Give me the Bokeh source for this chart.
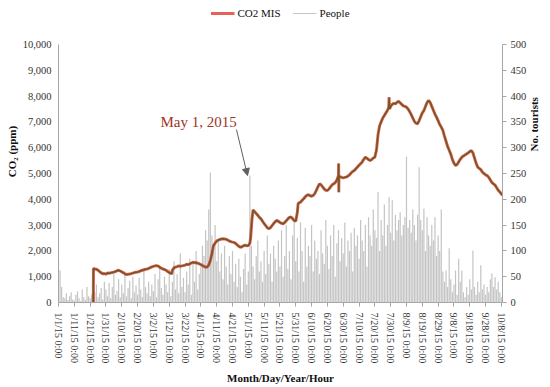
import math
from bokeh.plotting import figure
from bokeh.models import (Range1d, LinearAxis, FixedTicker, Legend, LegendItem,
                          Label, Arrow, NormalHead, NumeralTickFormatter)
from bokeh.embed import file_html
from bokeh.resources import INLINE

# ---------------- data ----------------
tick_days = [0, 10, 20, 30, 40, 50, 60, 70, 80, 90, 100, 110, 120, 130, 140,
             150, 160, 170, 180, 190, 200, 210, 220, 230, 240, 250, 260, 270, 280]
tick_labels = ["1/1/15 0:00", "1/11/15 0:00", "1/21/15 0:00", "1/31/15 0:00",
               "2/10/15 0:00", "2/20/15 0:00", "3/2/15 0:00", "3/12/15 0:00",
               "3/22/15 0:00", "4/1/15 0:00", "4/11/15 0:00", "4/21/15 0:00",
               "5/1/15 0:00", "5/11/15 0:00", "5/21/15 0:00", "5/31/15 0:00",
               "6/10/15 0:00", "6/20/15 0:00", "6/30/15 0:00", "7/10/15 0:00",
               "7/20/15 0:00", "7/30/15 0:00", "8/9/15 0:00", "8/19/15 0:00",
               "8/29/15 0:00", "9/8/15 0:00", "9/18/15 0:00", "9/28/15 0:00",
               "10/8/15 0:00"]

people = [
    85, 62, 30, 10, 8, 18, 5, 12, 20, 6,
    4, 15, 22, 8, 3, 25, 10, 5, 30, 12,
    8, 15, 5, 20, 35, 10, 18, 28, 6, 40,
    25, 12, 38, 8, 30, 55, 15, 22, 45, 10,
    35, 18, 60, 12, 28, 42, 8, 50, 20, 33,
    15, 48, 25, 10, 62, 30, 18, 40, 12, 35,
    22, 55, 10, 45, 70, 28, 15, 50, 35, 20,
    65, 12, 40, 80, 25, 55, 18, 95, 30, 48,
    20, 60, 35, 85, 15, 75, 40, 100, 25, 55,
    70, 110, 90, 140, 120, 180, 252, 130, 100, 150,
    80, 120, 60, 95, 45, 110, 70, 35, 90, 55,
    100, 40, 75, 30, 85, 50, 20, 65, 95, 35,
    60, 246, 110, 70, 45, 90, 120, 60, 80, 40,
    100, 55, 130, 75, 95, 40, 110, 85, 60, 120,
    70, 140, 50, 90, 150, 65, 100, 45, 130, 160,
    80, 125, 60, 155, 100, 40, 145, 70, 110, 90,
    150, 60, 120, 85, 100, 55, 140, 95, 75, 160,
    110, 65, 130, 90, 150, 50, 115, 140, 80, 125,
    95, 155, 70, 120, 100, 135, 60, 145, 110, 130,
    85, 160, 120, 100, 150, 70, 165, 130, 110, 180,
    140, 125, 214, 100, 160, 130, 190, 110, 150, 204,
    135, 198, 120, 170, 140, 160, 175, 130, 150, 165,
    283, 145, 160, 135, 180, 150, 120, 170, 262, 160,
    140, 182, 100, 165, 130, 110, 150, 120, 165, 90,
    130, 100, 180, 60, 40, 62, 30, 105, 45, 20,
    35, 62, 15, 85, 40, 62, 20, 10, 30, 15,
    45, 25, 101, 30, 15, 40, 20, 72, 25, 35,
    15, 30, 20, 45, 56, 30, 49, 25, 40, 20,
    10,
]
people_days = list(range(len(people)))
people_base = [0] * len(people)

co2_days = [
    22.0, 22.1, 23, 24, 25, 26, 27, 28, 29, 30, 31, 32, 33, 34, 35, 36, 37, 38, 39,
    40, 41, 42, 43, 44, 45, 46, 47, 48, 49, 50, 51, 52, 53, 54, 55, 56, 57, 58, 59,
    60, 61, 62, 63, 64, 65, 66, 67, 68, 69, 70, 71, 71.5, 72, 73, 74, 75, 76, 77,
    78, 79, 80, 81, 82, 83, 84, 85, 86, 87, 88, 89, 90, 91, 92, 93, 94, 95, 96, 97,
    98, 99, 100, 101, 102, 103, 104, 105, 106, 107, 108, 109, 110, 111, 112, 113,
    114, 115, 116, 117, 118, 119, 120, 121, 121.5, 122.3, 123, 124, 125, 126, 127,
    128, 129, 130, 131, 132, 133, 134, 135, 136, 137, 138, 139, 140, 141, 142, 143,
    144, 145, 146, 147, 148, 149, 150, 151, 151.5, 152, 153, 154, 155, 156, 157,
    158, 159, 160, 161, 162, 163, 164, 165, 166, 167, 168, 169, 170, 171, 172, 173,
    174, 175, 176, 177, 177.1, 177.2, 177.3, 178, 179, 180, 181, 182, 183, 184, 185,
    186, 187, 188, 189, 190, 191, 192, 193, 194, 195, 196, 197, 198, 199, 200, 201,
    202, 203, 204, 205, 206, 207, 208, 208.8, 209, 209.3, 210, 211, 212, 213, 214,
    215, 216, 217, 218, 219, 220, 221, 222, 223, 224, 225, 226, 227, 228, 229, 230,
    231, 232, 233, 234, 235, 236, 237, 238, 239, 240, 241, 242, 243, 244, 245, 246,
    247, 248, 249, 250, 251, 252, 253, 254, 255, 256, 257, 258, 259, 260, 261, 262,
    263, 264, 265, 266, 267, 268, 269, 270, 271, 272, 273, 274, 275, 276, 277, 278,
    279, 280, 280.5,
]
co2_ppm = [
    0, 1320, 1300, 1290, 1250, 1200, 1150, 1110, 1120, 1100, 1140, 1130, 1150, 1160,
    1180, 1200, 1230, 1250, 1220,
    1190, 1150, 1110, 1085, 1095, 1100, 1120, 1140, 1160, 1170, 1180, 1200, 1230,
    1250, 1270, 1290, 1300, 1320, 1350, 1380,
    1400, 1420, 1430, 1410, 1370, 1330, 1300, 1280, 1250, 1200, 1160, 1135, 1100,
    1250, 1340, 1370, 1390, 1420, 1400,
    1420, 1430, 1450, 1480, 1470, 1500, 1530, 1560, 1540, 1550, 1520, 1500, 1470,
    1430, 1400, 1370, 1380, 1450, 1630, 1900,
    2210, 2300, 2380, 2420, 2440, 2460, 2470, 2460, 2450, 2420, 2380, 2360, 2340,
    2330, 2290, 2230,
    2180, 2140, 2160, 2200, 2220, 2200, 2210, 2300, 2530, 3200, 3590, 3520, 3450,
    3380, 3300,
    3240, 3150, 3060, 2980, 2900, 2860, 2900, 2980, 3060, 3130, 3180, 3150, 3100,
    3070, 3050, 3100,
    3170, 3240, 3300, 3310, 3250, 3180, 3150, 3500, 3830, 3860, 3890, 3960, 4020,
    4100, 4150,
    4180, 4140, 4120, 4150, 4220, 4350, 4480, 4600, 4560, 4480, 4400, 4350, 4340,
    4400, 4480, 4560,
    4600, 4650, 4750, 4920, 5390, 4270, 4900, 4880, 4850, 4830, 4850, 4860, 4900,
    4950, 5020,
    5080, 5120, 5180, 5250, 5320, 5380, 5450, 5550, 5630, 5590, 5540, 5500, 5540,
    5600, 5630, 5900,
    6500, 6850, 7000, 7150, 7250, 7350, 7450, 7570, 7950, 7500, 7600, 7680, 7720,
    7700, 7760,
    7800, 7740, 7680, 7620, 7600, 7570, 7500, 7400, 7280, 7150, 7020, 6950, 6930,
    7050, 7200, 7350,
    7440, 7600, 7750, 7830, 7750, 7600, 7450, 7300, 7180, 7050, 6900, 6800, 6670,
    6450, 6250, 6050,
    5900, 5750, 5550, 5400, 5310, 5350, 5450, 5550, 5630, 5680, 5720, 5760, 5800,
    5850, 5890, 5800,
    5600, 5400, 5250, 5200, 5150, 5050, 5000, 4950, 4920, 4850, 4750, 4650, 4600,
    4550, 4450, 4350,
    4280, 4210, 4150,
]

co2_ticks = [0, 1000, 2000, 3000, 4000, 5000, 6000, 7000, 8000, 9000, 10000]
people_ticks = [0, 50, 100, 150, 200, 250, 300, 350, 400, 450, 500]

# ---------------- figure ----------------
FONT = "Liberation Serif"
AX = "#A6A6A6"
TXT = "#333333"

# frame runs to the top edge so the legend can sit above the 10,000 line;
# axis lines are bounded to the data span
CO2_TOP = 10000 * 302 / 258
PEOPLE_TOP = 500 * 302 / 258

p = figure(width=550, height=387, output_backend="svg", toolbar_location=None,
           x_range=Range1d(0, 280.7), y_range=Range1d(0, CO2_TOP),
           min_border_left=58, min_border_right=48, min_border_top=0,
           min_border_bottom=85)
p.outline_line_color = None
p.xgrid.visible = False
p.ygrid.visible = False
p.extra_y_ranges = {"people": Range1d(0, PEOPLE_TOP)}

bars = p.segment(x0=people_days, y0=people_base, x1=people_days, y1=people,
                 y_range_name="people", line_color="#C4C4C4", line_width=1.2)

co2_red = p.line(co2_days, co2_ppm, line_color="#E03A2E", line_width=3,
                 line_alpha=0.8)
co2_core = p.line(co2_days, co2_ppm, line_color="#6B5A22", line_width=1.5)

# axes
xa = p.xaxis[0]
xa.ticker = FixedTicker(ticks=tick_days)
xa.major_label_overrides = dict(zip(tick_days, tick_labels))
xa.major_label_orientation = "vertical"
xa.axis_label = "Month/Day/Year/Hour"

ya = p.yaxis[0]
ya.ticker = FixedTicker(ticks=co2_ticks)
ya.formatter = NumeralTickFormatter(format="0,0")
ya.axis_label = "CO\u2082 (ppm)"
ya.bounds = (0, 10000)

ra = LinearAxis(y_range_name="people", ticker=FixedTicker(ticks=people_ticks),
                axis_label="No. tourists", bounds=(0, 500))
p.add_layout(ra, "right")

for ax in (xa, ya, ra):
    ax.axis_line_color = AX
    ax.minor_tick_line_color = None
    ax.major_tick_in = 0
    ax.major_tick_out = 4
    ax.major_tick_line_color = AX
    ax.major_label_text_font = FONT
    ax.major_label_text_font_size = "10.5px"
    ax.major_label_text_color = TXT
    ax.axis_label_text_font = FONT
    ax.axis_label_text_font_size = "11px"
    ax.axis_label_text_font_style = "bold"
    ax.axis_label_text_color = "#111111"
    ax.major_label_standoff = 4
    ax.axis_label_standoff = 5
xa.major_label_text_font_size = "10px"
xa.major_label_standoff = 6
xa.axis_label_standoff = 6
ya.major_tick_line_color = None
ya.major_tick_out = 0
ya.major_label_standoff = 7
ya.axis_label_standoff = 2
ra.axis_label_orientation = math.pi / 2

# annotation
p.add_layout(Label(x=64.5, y=7015, text="May 1, 2015", text_font=FONT,
                   text_font_size="15px", text_color="#A0341E",
                   text_baseline="middle"))
p.add_layout(Arrow(end=NormalHead(size=7, line_color="#606060",
                                  fill_color="#606060"),
                   x_start=112.5, y_start=6705, x_end=119.5, y_end=4920,
                   line_color="#606060", line_width=1))

legend = Legend(items=[LegendItem(label="CO2 MIS", renderers=[co2_red]),
                       LegendItem(label="People", renderers=[bars])],
                orientation="horizontal", location="top_center",
                border_line_color=None, background_fill_alpha=0,
                label_text_font=FONT, label_text_font_size="11px",
                label_text_color="#111111", glyph_width=24, glyph_height=12,
                label_standoff=3, spacing=12, padding=0, margin=7)
p.add_layout(legend)

open("out.html", "w").write(file_html(p, INLINE))
